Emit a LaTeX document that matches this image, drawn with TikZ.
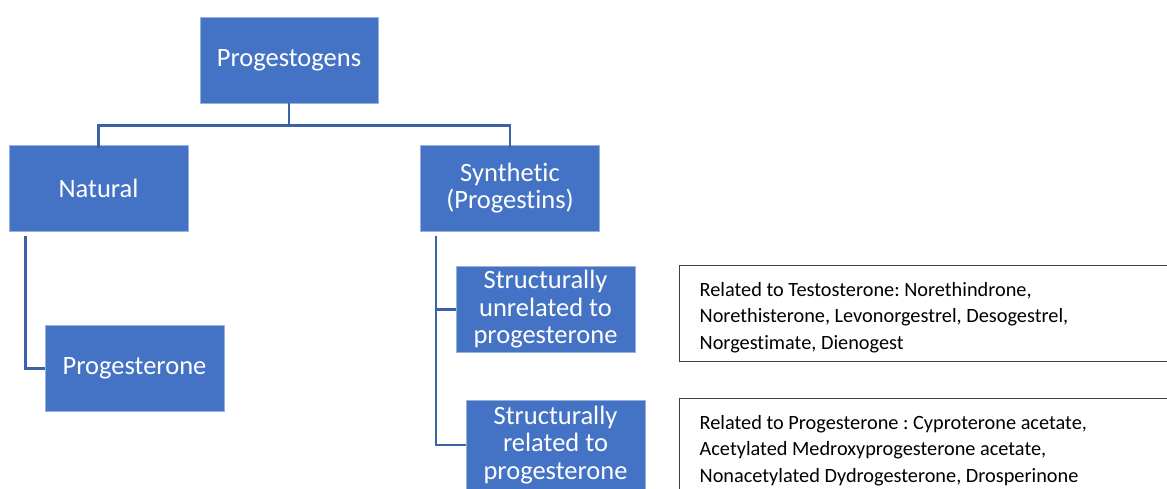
\documentclass[tikz,border=0pt]{standalone}
\usepackage{fontspec}
\setmainfont{Carlito}[Ligatures=NoCommon]
\usepackage{xcolor}
\definecolor{boxblue}{HTML}{4472C4}
\definecolor{linkblue}{HTML}{3B62A8}
\definecolor{framegray}{HTML}{404040}
\frenchspacing
\tikzset{
  bluebox/.style={fill=boxblue, draw=boxblue!55!white, line width=0.8pt, text=white,
    minimum width=179pt, minimum height=86pt, align=center, inner sep=0pt,
    font=\fontsize{26.5}{27.5}\selectfont},
  link/.style={draw=linkblue, line width=2.6pt},
  listbox/.style={draw=framegray, line width=1.3pt, anchor=north west,
    inner xsep=20pt, inner ysep=16.5pt, font=\fontsize{20.3}{26.5}\selectfont}
}
\newcommand{\listtext}[2]{\parbox[t][#1][t]{470pt}{\raggedright #2}}

\begin{document}
\begin{tikzpicture}[x=1pt,y=-1pt]
\useasboundingbox (0,0) rectangle (1167,488);
\clip (0,0) rectangle (1167,488);
% Top level
\node[bluebox, minimum width=178pt] (progestogens) at (289,60) {Progestogens};
% Second level
\node[bluebox] (natural) at (98.5,188) {Natural};
\node[bluebox] (synthetic) at (510,188) {Synthetic\\(Progestins)};
% Third level
\node[bluebox] (progesterone) at (134.5,368.5) {Progesterone};
\node[bluebox] (unrelated) at (545.5,309.5) {Structurally\\unrelated to\\progesterone};
\node[bluebox, minimum height=90pt] (related) at (555.5,445) {Structurally\\related to\\progesterone};
% Text boxes
\node[listbox] (testo) at (679,265) {\listtext{63pt}{Related to Testosterone: Norethindrone,\\Norethisterone, Levonorgestrel, Desogestrel,\\Norgestimate, Dienogest}};
\node[listbox] (proge) at (679,398) {\listtext{80pt}{Related to Progesterone : Cyproterone acetate,\\Acetylated Medroxyprogesterone acetate,\\Nonacetylated Dydrogesterone, Drosperinone}};
% Connectors
\draw[link] (progestogens.south) -- ++(0,22) -| ([yshift=-3pt]natural.north);
\draw[link] (progestogens.south) ++(0,22) -| ([yshift=-3pt]synthetic.north);
\draw[link] ([xshift=17pt,yshift=-5pt]natural.south west) |- (progesterone.west);
\draw[link] ([xshift=16pt,yshift=-5pt]synthetic.south west) |- (unrelated.west);
\draw[link] ([xshift=16pt,yshift=-5pt]synthetic.south west) |- (related.west);
\end{tikzpicture}
\end{document}
